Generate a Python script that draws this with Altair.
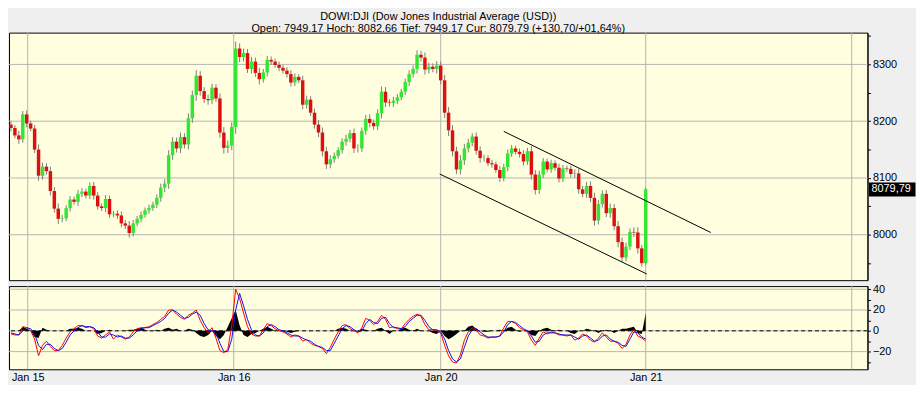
import altair as alt
import pandas as pd

title_line1 = "DOWI:DJI (Dow Jones Industrial Average (USD))"
title_line2 = "Open: 7949.17 Hoch: 8082.66 Tief: 7949.17 Cur: 8079.79 (+130,70/+01,64%)"

first_open = 8194
closes = [
    8188, 8175, 8168, 8212, 8196, 8187, 8150, 8104, 8120, 8112,
    8077, 8046, 8028, 8029, 8047, 8062, 8058, 8072, 8076, 8069,
    8086, 8069, 8050, 8047, 8063, 8036, 8037, 8034, 8020, 8016,
    8003, 8020, 8028, 8035, 8043, 8047, 8053, 8065, 8083, 8090,
    8140, 8164, 8152, 8172, 8159, 8205, 8246, 8280, 8253, 8239,
    8237, 8259, 8240, 8180, 8153, 8157, 8190, 8328, 8313, 8320,
    8292, 8305, 8285, 8274, 8286, 8308, 8305, 8299, 8294, 8289,
    8283, 8268, 8278, 8272, 8229, 8238, 8215, 8194, 8180, 8147,
    8124, 8133, 8139, 8149, 8164, 8169, 8179, 8152, 8152, 8183,
    8204, 8197, 8191, 8214, 8252, 8233, 8232, 8236, 8242, 8252,
    8269, 8283, 8292, 8317, 8312, 8291, 8296, 8292, 8298, 8272,
    8215, 8184, 8147, 8115, 8131, 8152, 8162, 8173, 8148, 8135,
    8135, 8126, 8124, 8114, 8100, 8119, 8143, 8152, 8146, 8142,
    8129, 8147, 8106, 8079, 8106, 8129, 8115, 8126, 8118, 8099,
    8117, 8116, 8107, 8108, 8080, 8072, 8086, 8065, 8025, 8054,
    8072, 8038, 8047, 8015, 7987, 7960, 7979, 8005, 8004, 7976,
    7950, 8080,
]
wicks = [
    6, 5, 8, 6, 7, 5, 6, 9, 7, 6,
    8, 7, 9, 6, 5, 6, 5, 7, 6, 5,
    6, 7, 6, 5, 7, 6, 5, 6, 7, 6,
    8, 6, 5, 6, 5, 6, 5, 6, 7, 8,
    9, 8, 7, 8, 7, 9, 8, 10, 8, 7,
    8, 7, 6, 9, 10, 9, 8, 12, 9, 8,
    7, 8, 7, 9, 6, 7, 6, 5, 6, 5,
    6, 7, 6, 5, 8, 7, 6, 7, 8, 9,
    8, 7, 6, 5, 6, 7, 6, 8, 7, 6,
    7, 8, 6, 7, 9, 8, 6, 7, 6, 5,
    6, 7, 6, 8, 7, 9, 7, 6, 8, 7,
    9, 10, 9, 8, 9, 8, 7, 6, 7, 8,
    6, 5, 6, 5, 7, 6, 7, 6, 5, 6,
    7, 6, 9, 8, 7, 6, 5, 6, 5, 7,
    6, 5, 6, 7, 8, 6, 7, 8, 9, 7,
    6, 7, 8, 7, 9, 8, 7, 6, 8, 9,
    6, 3,
]
osc_red = [
    -3, -4, -4, 4, 3, 0, -8, -24, -14, -10,
    -15, -19, -19, -14, -7, -1, 2, 5, 5, 3,
    4, 2, -5, -7, -4, -1, -8, -4, -6, -8,
    -6, -1, 2, 3, 3, 4, 6, 8, 11, 14,
    20, 20, 16, 13, 11, 15, 17, 20, 10, 3,
    -2, 3, -7, -19, -21, -18, 5, 40, 31, 17,
    4, -3, -5, -5, 1, 7, 5, 2, 0, -1,
    -3, -6, -4, -5, -10, -8, -12, -14, -15, -17,
    -22, -16, -8, -1, 5, 6, 2, 0, -2, 3,
    12, 10, 6, 9, 15, 11, 3, 4, 2, 2,
    7, 11, 14, 16, 14, 6, 1, 1, 0, -2,
    -14, -24, -30, -31, -23, -9, -1, 3, 1, -4,
    -5, -7, -6, -6, -5, 3, 9, 9, 7, 3,
    1, -1, -9, -14, -7, -1, -3, -1, -2, -4,
    -4, -5, -4, -9, -7, -3, -5, -9, -11, -7,
    -2, -6, -10, -10, -12, -17, -13, -4, 1, -5,
    -7, -10,
]
osc_blue = [
    -2, -3, -4, 0, 3, 2, -3, -14, -18, -13,
    -13, -17, -19, -17, -11, -4, 0, 3, 5, 4,
    4, 3, -1, -6, -6, -3, -4, -6, -5, -7,
    -7, -4, 0, 2, 3, 3, 5, 7, 9, 12,
    17, 20, 18, 15, 12, 13, 16, 18, 15, 7,
    1, 0, -2, -12, -20, -20, -8, 20, 36, 24,
    11, 1, -4, -5, -2, 4, 6, 4, 1, 0,
    -2, -4, -5, -5, -7, -9, -10, -13, -15, -16,
    -19, -19, -12, -5, 2, 5, 4, 1, -1, 0,
    7, 11, 8, 7, 12, 13, 7, 3, 3, 2,
    4, 9, 12, 15, 15, 10, 4, 1, 1, -1,
    -8, -19, -27, -30, -27, -16, -5, 1, 2, -1,
    -4, -6, -6, -6, -5, -1, 6, 9, 8, 5,
    2, 0, -5, -11, -10, -4, -2, -2, -2, -3,
    -4, -4, -4, -6, -8, -5, -4, -7, -10, -9,
    -5, -4, -8, -10, -11, -14, -15, -8, -1, -2,
    -6, -8,
]
osc_hist = [
    0, 0, 0, 4, 2, 0, -6, -7, 3, 1,
    0, 0, 0, 0, 0, 2, 2, 3, 2, 0,
    0, 0, -3, -2, 0, 1, 0, 0, 0, 0,
    1, 1, 2, 3, 1, 0, 0, 1, 0, 2,
    3, 1, 2, 0, 0, 2, 1, -2, -5, -6,
    -4, 0, -5, -8, -4, 4, 12, 20, 5, -4,
    -6, -3, -2, 0, 2, 4, 2, 0, 0, 0,
    -1, -2, -1, 0, 0, 0, 0, 0, 0, 0,
    0, 0, 0, 2, 3, 2, 0, 0, 0, 2,
    1, 0, 0, 2, 3, 0, -3, 0, 0, 2,
    3, 1, 0, 2, 0, 0, 0, -2, -3, 0,
    -5, -8, -6, -3, 0, 0, 4, 5, 2, 0,
    -1, -1, 0, 0, 1, 0, 3, 4, 1, -1,
    0, 0, -4, -5, 0, 2, 3, 1, 0, 1,
    0, 0, -2, -3, 0, 0, 2, 1, 0, -2,
    0, 1, 0, -2, 0, 2, 2, 3, 4, -2,
    -3, 17,
]

day_pos = [4.25, 56.5, 109, 161, 213.25]
day_labels = ["Jan 15", "Jan 16", "Jan 20", "Jan 21", ""]
price_grid = [8000, 8100, 8200, 8300]
price_ticks = [7950, 8000, 8050, 8100, 8150, 8200, 8250, 8300, 8350]
osc_grid = [-20, 0, 20, 40]
osc_ticks = [-30, -20, -10, 0, 10, 20, 30, 40]
trend_id = ["upper", "upper", "lower", "lower"]
trend_i = [125, 177.5, 108.75, 161.25]
trend_p = [8182, 8004, 8107, 7931]
last_price = 8079.79
last_label = "8079,79"

# ---- styling ----
W = 867
GRID = "#b4b4b4"
GREEN = "#33e633"
RED = "#dd1010"
FONT = "Liberation Sans"
TFONT = "Liberation Sans Narrow, Liberation Sans, sans-serif"

n = len(closes)
opens = [first_open] + closes[:-1]
candles = pd.DataFrame({"i": list(range(n)), "open": opens, "close": closes, "wick": wicks})
candles["high"] = candles[["open", "close"]].max(axis=1) + candles["wick"]
candles["low"] = candles[["open", "close"]].min(axis=1) - candles["wick"]
candles["dir"] = ["up" if c >= o else "down" for o, c in zip(candles["open"], candles["close"])]

osc = pd.DataFrame({"i": list(range(len(osc_red))), "red": osc_red, "blue": osc_blue,
                    "hist": osc_hist})

xs = alt.Scale(domain=[-0.5, 217.25], nice=False, zero=False)
ys = alt.Scale(domain=[7920, 8356], nice=False, zero=False)
yo = alt.Scale(domain=[-37, 43], nice=False, zero=False)

y_axis_top = alt.Axis(orient="right", values=price_ticks, format="d",
                      labelExpr="datum.value % 100 === 0 ? datum.label : ''",
                      title=None, grid=False, tickSize=3, labelPadding=2,
                      domainColor="black", tickColor="black", labelColor="black",
                      labelFont=FONT, labelFontSize=11, labelOverlap=False)
y_axis_low = alt.Axis(orient="right", values=osc_ticks, format="d",
                      labelExpr="datum.value % 20 === 0 ? datum.label : ''",
                      title=None, grid=False, tickSize=3, labelPadding=2,
                      domainColor="black", tickColor="black", labelColor="black",
                      labelFont=FONT, labelFontSize=11, labelOverlap=False)
lab_expr = " : ".join(
    f"datum.value == {p} ? '{l}'" for p, l in zip(day_pos[:4], day_labels[:4])
) + " : ''"
x_axis_low = alt.Axis(orient="bottom", values=day_pos[:4], labelExpr=lab_expr,
                      title=None, grid=False, ticks=False, labelPadding=2,
                      domain=False, labelColor="black",
                      labelFont=FONT, labelFontSize=11, labelOverlap=False)


def XT(f):
    return alt.X(f"{f}:Q", scale=xs, axis=None)


def YT(f):
    return alt.Y(f"{f}:Q", scale=ys, axis=y_axis_top)


def XL(f):
    return alt.X(f"{f}:Q", scale=xs, axis=x_axis_low)


def YL(f):
    return alt.Y(f"{f}:Q", scale=yo, axis=y_axis_low)


# ---- main price panel ----
hgrid = alt.Chart(pd.DataFrame({"p": price_grid})).mark_rule(color=GRID).encode(y=YT("p"))
vgrid = alt.Chart(pd.DataFrame({"i": day_pos})).mark_rule(color=GRID).encode(x=XT("i"))
wick_layer = alt.Chart(candles).mark_rule(color="#7c7c7c", strokeWidth=1).encode(
    x=XT("i"), y=YT("low"), y2="high:Q")
body_layer = alt.Chart(candles).mark_rule(strokeWidth=3.5, strokeCap="butt").encode(
    x=XT("i"), y=YT("open"), y2="close:Q",
    color=alt.Color("dir:N", scale=alt.Scale(domain=["up", "down"], range=[GREEN, RED]),
                    legend=None))
trend = alt.Chart(pd.DataFrame({"id": trend_id, "i": trend_i, "p": trend_p})).mark_line(
    color="black", strokeWidth=1).encode(x=XT("i"), y=YT("p"), detail="id:N")
lab_df = pd.DataFrame({"p": [last_price], "t": [last_label]})
BOX = "M-1,-0.3L1,-0.3L1,0.3L-1,0.3Z"
box = alt.Chart(lab_df).mark_point(shape=BOX, filled=True, color="black", opacity=1,
                                   size=2209).encode(x=alt.value(W + 25), y=YT("p"))
box_txt = alt.Chart(lab_df).mark_text(align="left", baseline="middle", color="white",
                                      font=FONT, fontSize=11).encode(
    x=alt.value(W + 4), y=YT("p"), text="t:N")

top = alt.layer(hgrid, vgrid, wick_layer, body_layer, trend, box, box_txt).properties(
    width=W, height=250,
    title=alt.TitleParams(text=[title_line1, title_line2], anchor="middle",
                          frame="group", font=TFONT, fontSize=11, lineHeight=12,
                          fontWeight="normal", color="black", offset=-4))

# ---- oscillator panel ----
ogrid = alt.Chart(pd.DataFrame({"v": osc_grid})).mark_rule(color=GRID).encode(y=YL("v"))
ovgrid = alt.Chart(pd.DataFrame({"i": day_pos})).mark_rule(color=GRID).encode(x=XL("i"))
hist = alt.Chart(osc).mark_area(color="black", interpolate="linear").encode(
    x=XL("i"), y=YL("hist"), y2=alt.datum(0))
zero = alt.Chart(pd.DataFrame({"v": [0]})).mark_rule(color="black", strokeDash=[4, 3]).encode(
    y=YL("v"))
red_line = alt.Chart(osc).mark_line(color="#ff0000", strokeWidth=1).encode(x=XL("i"), y=YL("red"))
blue_line = alt.Chart(osc).mark_line(color="#1010ee", strokeWidth=1).encode(x=XL("i"), y=YL("blue"))

low = alt.layer(ogrid, ovgrid, hist, zero, red_line, blue_line).properties(width=W, height=84)

chart = alt.vconcat(top, low, spacing=1, padding=0, background="#efefef").configure_view(
    fill="#ffffe0", stroke="black", strokeWidth=1)

chart.save("out.html", embed_options={"renderer": "svg", "actions": False})
